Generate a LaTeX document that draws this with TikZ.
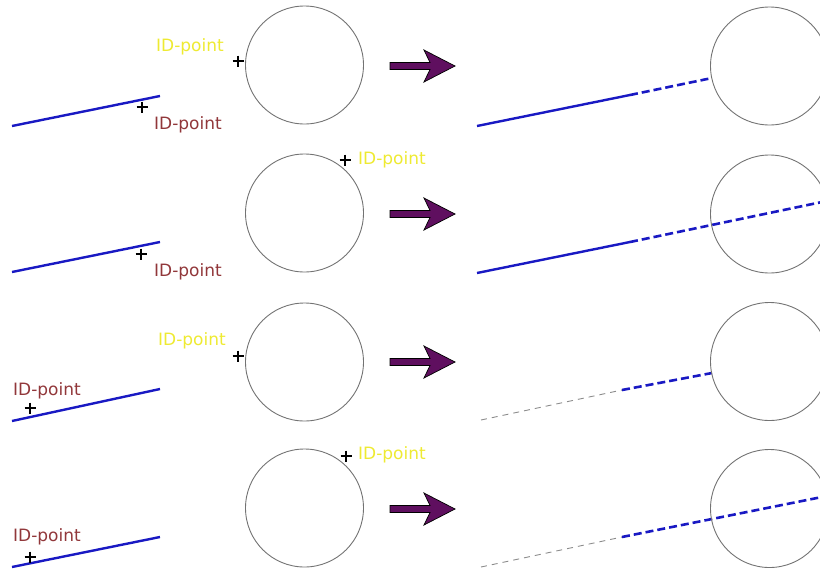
\documentclass[tikz,border=0pt]{standalone}
\usepackage{fontspec}
\setmainfont{DejaVu Sans}
\begin{document}
\begin{tikzpicture}[x=1pt,y=-1pt,
  ring/.style={circle,draw=black!55,line width=0.9pt,minimum size=118pt,inner sep=0pt},
  bluesolid/.style={draw={rgb,255:red,25;green,25;blue,195},line width=2.4pt},
  bluedash/.style={draw={rgb,255:red,25;green,25;blue,195},line width=2.6pt,dash pattern=on 8pt off 4pt},
  graydash/.style={draw=black!45,line width=0.9pt,dash pattern=on 6pt off 5pt},
  crossline/.style={draw=black,line width=1.4pt},
  ylab/.style={text={rgb,255:red,238;green,234;blue,50},font=\fontsize{17}{19}\selectfont,inner sep=0pt},
  mlab/.style={text={rgb,255:red,145;green,55;blue,58},font=\fontsize{17}{19}\selectfont,inner sep=0pt},
  bigarrow/.style={fill={rgb,255:red,95;green,15;blue,95},draw=black,line width=0.7pt}
]
\useasboundingbox (0,0) rectangle (820,571);
\newcommand\mycross[1]{\draw[crossline] (#1)+(-5.5,0) -- +(5.5,0) (#1)+(0,-5.5) -- +(0,5.5);}
\newcommand\myarrow[1]{\draw[bigarrow] (#1)+(-65,-3.5) -- +(-25,-3.5) -- +(-31,-16) -- +(0,0) -- +(-31,16) -- +(-25,3.5) -- +(-65,3.5) -- cycle;}

% ---------- Row 1 ----------
\coordinate (l1a) at (12,126); \coordinate (l1b) at (160,96);
\draw[bluesolid] (l1a) -- (l1b);
\coordinate (x1a) at (142,107); \mycross{x1a}
\node[mlab] (m1) at (188,125) {ID-point};
\node[ring] (c1) at (304.5,65) {};
\coordinate (x1b) at (238,61); \mycross{x1b}
\node[ylab] (y1) at (190,47) {ID-point};
\coordinate (a1) at (455,66); \myarrow{a1}
\coordinate (r1a) at (477,126); \coordinate (r1b) at (630,95); \coordinate (r1c) at (712,78);
\draw[bluesolid] (r1a) -- (r1b);
\draw[bluedash] (r1b) -- (r1c);
\node[ring] (d1) at (769.5,66) {};

% ---------- Row 2 ----------
\coordinate (l2a) at (12,272); \coordinate (l2b) at (160,242);
\draw[bluesolid] (l2a) -- (l2b);
\coordinate (x2a) at (141,254); \mycross{x2a}
\node[mlab] (m2) at (188,272) {ID-point};
\node[ring] (c2) at (304.5,213) {};
\coordinate (x2b) at (345,160); \mycross{x2b}
\node[ylab] (y2) at (392,160) {ID-point};
\coordinate (a2) at (455,214); \myarrow{a2}
\coordinate (r2a) at (477,273); \coordinate (r2b) at (630,242); \coordinate (r2c) at (822,202);
\draw[bluesolid] (r2a) -- (r2b);
\draw[bluedash] (r2b) -- (r2c);
\node[ring] (d2) at (769.5,214) {};

% ---------- Row 3 ----------
\coordinate (l3a) at (12,421); \coordinate (l3b) at (160,389);
\draw[bluesolid] (l3a) -- (l3b);
\coordinate (x3a) at (30,408); \mycross{x3a}
\node[mlab] (m3) at (47,391) {ID-point};
\node[ring] (c3) at (304.5,362) {};
\coordinate (x3b) at (238,356); \mycross{x3b}
\node[ylab] (y3) at (192,341) {ID-point};
\coordinate (a3) at (455,362); \myarrow{a3}
\coordinate (r3a) at (481,420); \coordinate (r3b) at (622,390); \coordinate (r3c) at (712,373);
\draw[graydash] (r3a) -- (r3b);
\draw[bluedash] (r3b) -- (r3c);
\node[ring] (d3) at (769.5,361.5) {};

% ---------- Row 4 ----------
\coordinate (l4a) at (12,567); \coordinate (l4b) at (160,537);
\draw[bluesolid] (l4a) -- (l4b);
\coordinate (x4a) at (30,557); \mycross{x4a}
\node[mlab] (m4) at (47,537) {ID-point};
\node[ring] (c4) at (304.5,508) {};
\coordinate (x4b) at (346,456); \mycross{x4b}
\node[ylab] (y4) at (392,455) {ID-point};
\coordinate (a4) at (455,509); \myarrow{a4}
\coordinate (r4a) at (481,567); \coordinate (r4b) at (622,537); \coordinate (r4c) at (822,497);
\draw[graydash] (r4a) -- (r4b);
\draw[bluedash] (r4b) -- (r4c);
\node[ring] (d4) at (769.5,508.5) {};
\end{tikzpicture}
\end{document}
